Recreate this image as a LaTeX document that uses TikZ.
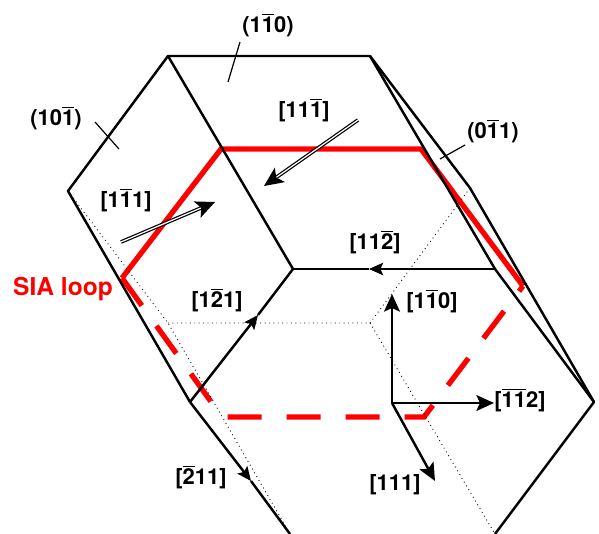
\documentclass[tikz,border=0pt]{standalone}
\usepackage{amsmath,amssymb}
\usepackage{xcolor}
\usepackage{fontspec}
\setmainfont{TeX Gyre Heros}
\usepackage{tikz}
\usetikzlibrary{arrows.meta}
\newcommand{\ob}[1]{$\overline{\mbox{\bfseries #1}}$}
\tikzset{
  edge/.style={draw=black, line width=1.4pt},
  hidden/.style={draw=black, line width=0.5pt, dotted},
  leader/.style={draw=black, line width=0.7pt},
  axis/.style={edge, -{Stealth[length=10pt,width=9pt,inset=2pt]}},
  midtip/.style={edge, -{Stealth[length=8pt,width=7pt,inset=1.5pt]}},
  twin/.style={draw=black, line width=0.7pt, double=white, double distance=0.7pt, -{Stealth[length=11pt,width=10pt,inset=2.5pt]}},
  loopsolid/.style={draw=red, line width=3pt, line join=miter},
  loopdash/.style={draw=red, line width=3pt, dash pattern=on 0.68cm off 0.5cm},
  lab/.style={font=\fontsize{12.5}{14}\selectfont\bfseries, inner sep=0pt}
}
\begin{document}
\begin{tikzpicture}[x=0.02cm, y=-0.02cm]
\useasboundingbox (0,0) rectangle (599,534);
% crystal corners
\coordinate (topL) at (168,56);
\coordinate (topR) at (370,56);
\coordinate (left) at (68,191);
\coordinate (low) at (190,402);
\coordinate (mid) at (293,269);
\coordinate (inR) at (495,269);
\coordinate (back) at (470,188);
\coordinate (right) at (594,402);
\coordinate (botR) at (495,534);
\coordinate (botL) at (290,534);
\coordinate (hid) at (168,323);
\coordinate (hidR) at (370,323);
% loop
\coordinate (l1) at (122,278);
\coordinate (l2) at (221,149);
\coordinate (l3) at (421,149);
\coordinate (l4) at (523,286);
\coordinate (l5) at (424,417);
\coordinate (l6) at (222,417);
\draw[loopsolid] (l1) -- (l2) -- (l3) -- (l4);
\draw[loopdash] (l1) -- (l6) -- (l5) -- (l4);
% hidden edges
\draw[hidden] (left) -- (hid) -- (botL);
\draw[hidden] (hid) -- (hidR) -- (botR);
\draw[hidden] (hidR) -- (back);
% visible edges
\draw[edge, line join=round] (low) -- (left) -- (topL) -- (topR) -- (inR) -- (right) -- (botR);
\draw[edge, line join=round] (topR) -- (back) -- (right);
\draw[edge] (topL) -- (mid);
\coordinate (tipA) at (258,315);
\coordinate (tipB) at (369,269);
\coordinate (tipC) at (251,481);
\draw[midtip] (low) -- (tipA);
\draw[edge] (tipA) -- (mid);
\draw[midtip] (inR) -- (tipB);
\draw[edge] (tipB) -- (mid);
\draw[midtip] (low) -- (tipC);
\draw[edge] (tipC) -- (botL);
% axes
\coordinate (org) at (392,403);
\coordinate (axU) at (392,294);
\coordinate (axR) at (494,403);
\coordinate (axD) at (435,481);
\draw[axis] (org) -- (axU);
\draw[axis] (org) -- (axR);
\draw[axis] (org) -- (axD);
% slip directions
\coordinate (s1) at (358,120);
\coordinate (s2) at (264,186);
\coordinate (s3) at (121,242);
\coordinate (s4) at (215,202);
\draw[twin] (s1) -- (s2);
\draw[twin] (s3) -- (s4);
% labels
\node[lab] (plA) at (268,25) {(1\ob{1}0)};
\node[lab] (plB) at (56,118) {(10\ob{1})};
\node[lab] (plC) at (493,131) {(0\ob{1}1)};
\coordinate (ldA) at (228,82);
\coordinate (ldA2) at (240,42);
\coordinate (ldB) at (119,149);
\coordinate (ldB2) at (95,122);
\coordinate (ldC) at (440,159);
\coordinate (ldC2) at (465,145);
\draw[leader] (ldA2) -- (ldA);
\draw[leader] (ldB2) -- (ldB);
\draw[leader] (ldC2) -- (ldC);
\node[lab] (dA) at (304,110) {[11\ob{1}]};
\node[lab] (dB) at (126,200) {[1\ob{1}1]};
\node[lab] (dC) at (375,242) {[11\ob{2}]};
\node[lab] (dD) at (217,300) {[1\ob{2}1]};
\node[lab] (dE) at (432,301) {[1\ob{1}0]};
\node[lab] (dF) at (520,400) {[\ob{1}\ob{1}2]};
\node[lab] (dG) at (201,477) {[\ob{2}11]};
\node[lab] (dH) at (395,485) {[111]};
\node[font=\fontsize{14}{16}\selectfont\bfseries, text=red, inner sep=0pt] (sia) at (63,289) {SIA loop};
\end{tikzpicture}
\end{document}
